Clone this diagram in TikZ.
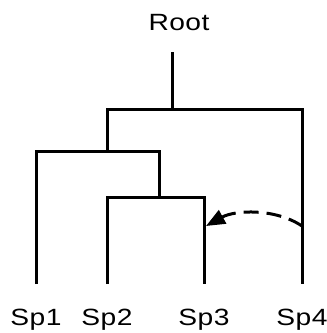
\documentclass[tikz,border=0pt]{standalone}
\usepackage{fontspec}
\setmainfont{Liberation Sans}[FakeStretch=1.2,LetterSpace=2]
\usetikzlibrary{arrows.meta}
\tikzset{
  branch/.style={line width=3pt},
  taxon/.style={anchor=base, inner sep=0pt, font=\fontsize{23.5}{28}\selectfont},
  transfer/.style={line width=3pt, dash pattern=on 15pt off 8pt,
    -{Triangle[length=19pt,width=15pt]}}
}
\begin{document}
\begin{tikzpicture}[x=1pt, y=-1pt]
        \useasboundingbox (0,0) rectangle (327,333);
        \node[taxon] (root) at (179,30) {Root};
        \coordinate (top) at (172,52);
        \coordinate (j1) at (172,109);
        \coordinate (j2) at (107,151);
        \coordinate (j3) at (159,197);
        \foreach \x [count = \i] in {36,107,204,302}{
          \coordinate (leaf\i) at (\x,284);
          \node[taxon] (sp\i) at (\x,325) {Sp\i};
        }
        \draw[branch] (top) -- (j1);
        \draw[branch] (j2) -- (j2 |- j1) -| (leaf4);
        \draw[branch] (leaf1) |- (j3 |- j2) -- (j3);
        \draw[branch] (leaf2) |- (j3) -| (leaf3);
        \coordinate (from) at (302,226);
        \coordinate (to) at (206,226);
        \draw[transfer] (from) .. controls (275,208) and (235,210) .. (to);
      \end{tikzpicture}
\end{document}
